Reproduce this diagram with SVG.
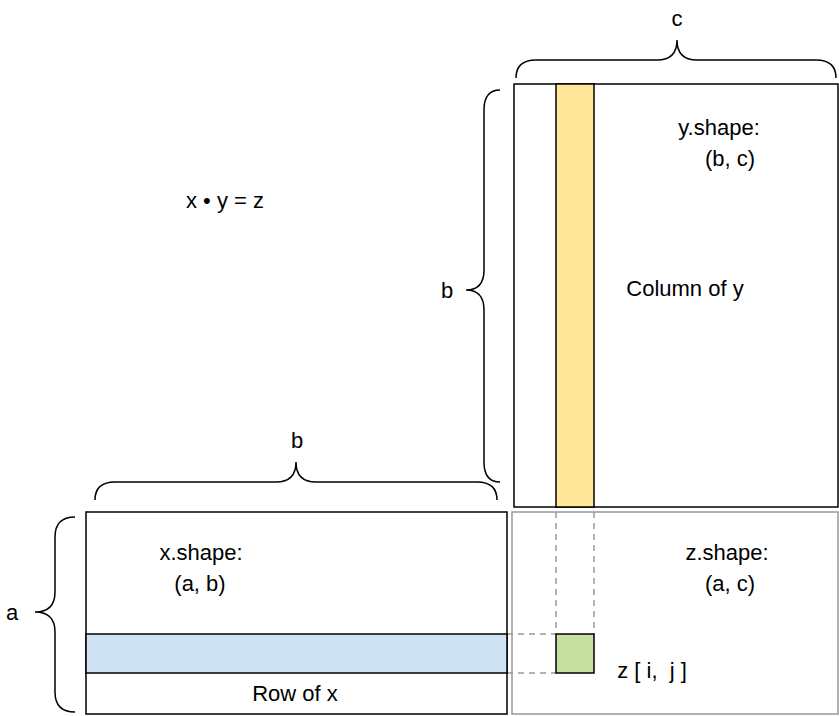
<svg xmlns="http://www.w3.org/2000/svg" width="839" height="716" viewBox="0 0 839 716">
<style>
text{font-family:"Liberation Sans",Arial,sans-serif;font-size:22px;fill:#000;text-anchor:middle}
.br{fill:none;stroke:#000;stroke-width:1.5}
.dash{stroke:#999;stroke-width:1.5;stroke-dasharray:6 5;fill:none}
</style>
<rect width="839" height="716" fill="#fff"/>
<g id="connectors">
<path class="dash" d="M556,512V634M594,512V634M507,634H556M507,673H556"/>
</g>
<g id="ymat"><rect x="514" y="84" width="324" height="423" fill="#fff" stroke="#000" stroke-width="1.5"/></g>
<g id="ycol"><rect x="556" y="84" width="38" height="423" fill="#ffe699" stroke="#000" stroke-width="1.5"/></g>
<g id="xmat"><rect x="86" y="512" width="421" height="202" fill="#fff" stroke="#000" stroke-width="1.5"/></g>
<g id="xrow"><rect x="86" y="634" width="421" height="39" fill="#cfe2f3" stroke="#000" stroke-width="1.5"/></g>
<g id="zmat"><rect x="512" y="512" width="326" height="202" fill="none" stroke="#999" stroke-width="1.5"/></g>
<g id="zcell"><rect x="556" y="634" width="38" height="39" fill="#c5e0a0" stroke="#000" stroke-width="1.5"/></g>
<g id="braces">
<path class="br" d="M516,78Q516,60 536,60L657,60Q677,60 677,40Q677,60 697,60L816,60Q836,60 836,78"/>
<path class="br" d="M95,500Q95,482 115,482L276,482Q296,482 296,462Q296,482 316,482L477,482Q497,482 497,500"/>
<path class="br" d="M500,90Q484,90 484,110L484,270Q484,290 466,290Q484,290 484,310L484,462Q484,482 500,482"/>
<path class="br" d="M75,517Q55,517 55,537L55,592Q55,612 35,612Q55,612 55,632L55,692Q55,712 75,712"/>
</g>
<g id="labels">
<text x="677" y="26">c</text>
<text x="297" y="448">b</text>
<text x="447" y="298">b</text>
<text x="12" y="620">a</text>
<text x="225" y="208">x • y = z</text>
<text x="719" y="135">y.shape:</text>
<text x="730" y="166">(b, c)</text>
<text x="685" y="296">Column of y</text>
<text x="201" y="560">x.shape:</text>
<text x="200" y="591">(a, b)</text>
<text x="727" y="560">z.shape:</text>
<text x="730" y="591">(a, c)</text>
<text x="295" y="701">Row of x</text>
<text x="652" y="678" style="white-space:pre">z [ i,  j ]</text>
</g>
</svg>
